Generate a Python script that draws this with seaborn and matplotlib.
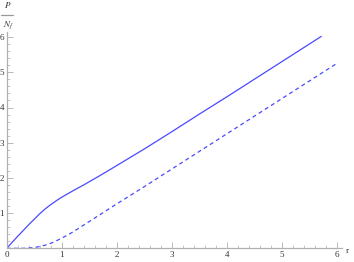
import pandas as pd
import numpy as np
import matplotlib
matplotlib.use("Agg")
import matplotlib.pyplot as plt
from matplotlib.ticker import MultipleLocator
from matplotlib.lines import Line2D
import seaborn as sns

# curva continua (P/N_f)
r_solid = [0, 0.2, 0.4, 0.6, 0.7, 0.8, 0.9, 1.0, 1.1, 1.2, 1.4, 1.7, 2.0, 2.5, 3.0, 3.5, 4.0, 5.0, 5.72]
p_solid = [0, 0.34, 0.67, 0.98, 1.12, 1.24, 1.35, 1.45, 1.54, 1.63, 1.8, 2.07, 2.35, 2.82, 3.31, 3.81, 4.3, 5.3, 6.02]

# curva discontinua
r_dash = [0, 0.3, 0.5, 0.6, 0.7, 0.8, 0.9, 1.0, 1.1, 1.2, 1.3, 1.4, 1.5, 1.7, 2.0, 2.5, 3.0, 4.0, 5.0, 6.0]
p_dash = [0, 0.0, 0.02, 0.05, 0.09, 0.14, 0.21, 0.29, 0.37, 0.46, 0.56, 0.66, 0.76, 0.96, 1.26, 1.75, 2.25, 3.25, 4.25, 5.25]

x_ticks = [0, 1, 2, 3, 4, 5, 6]
y_ticks = [1, 2, 3, 4, 5, 6]

df_s = pd.DataFrame({"r": r_solid, "P": p_solid})
df_d = pd.DataFrame({"r": r_dash, "P": p_dash})

sns.set_style("white")
plt.rcParams["font.family"] = ["Liberation Serif", "DejaVu Serif"]
plt.rcParams["mathtext.fontset"] = "stix"

W, H = 354, 262
fig = plt.figure(figsize=(W / 100, H / 100), dpi=100)
x0, y0 = 6.7, 248.3
sx, sy = 55.0, 35.2
xmax, ymax = 6.1, 6.0 + 5.0 / 35.2
ax = fig.add_axes([x0 / W, (H - y0) / H, xmax * sx / W, ymax * sy / H])

azul = "#4a4aff"
sns.lineplot(data=df_s, x="r", y="P", ax=ax, color=azul, linewidth=0.9)
sns.lineplot(data=df_d, x="r", y="P", ax=ax, color=azul, linewidth=0.9,
             linestyle=(0, (3.2, 2.6)))

ax.set_xlim(0, xmax)
ax.set_ylim(0, ymax)
ax.set_xticks(x_ticks)
ax.set_yticks(y_ticks)
ax.xaxis.set_minor_locator(MultipleLocator(0.2))
ax.yaxis.set_minor_locator(MultipleLocator(0.2))
ax.set_xlabel("")
ax.set_ylabel("")

gris = "#b0b0b0"
for s in ["top", "right"]:
    ax.spines[s].set_visible(False)
for s in ["left", "bottom"]:
    ax.spines[s].set_color(gris)
    ax.spines[s].set_linewidth(0.9)

ax.tick_params(which="major", direction="in", length=4, width=0.6, color=gris,
               labelsize=6.5, labelcolor="#333333", pad=2)
ax.tick_params(which="minor", direction="in", length=2, width=0.5, color=gris)
ax.tick_params(axis="x", which="both", bottom=True, top=False)
ax.tick_params(axis="y", which="both", left=True, right=False)
ax.set_facecolor("white")

# etiquetas de los ejes
fig.text(347 / W, 1 - 251 / H, "r", fontsize=6.5, color="#333333", ha="center", va="center")
fig.text(8 / W, 1 - 5 / H, r"$P$", fontsize=6.5, color="#333333", ha="center", va="center")
fig.add_artist(Line2D([1 / W, 13 / W], [1 - 14.5 / H, 1 - 14.5 / H], color="#999999",
                      linewidth=0.9, transform=fig.transFigure))
fig.text(8 / W, 1 - 25 / H, r"$N_f$", fontsize=6.5, color="#333333", ha="center", va="center")

fig.savefig("out.png", dpi=100)
